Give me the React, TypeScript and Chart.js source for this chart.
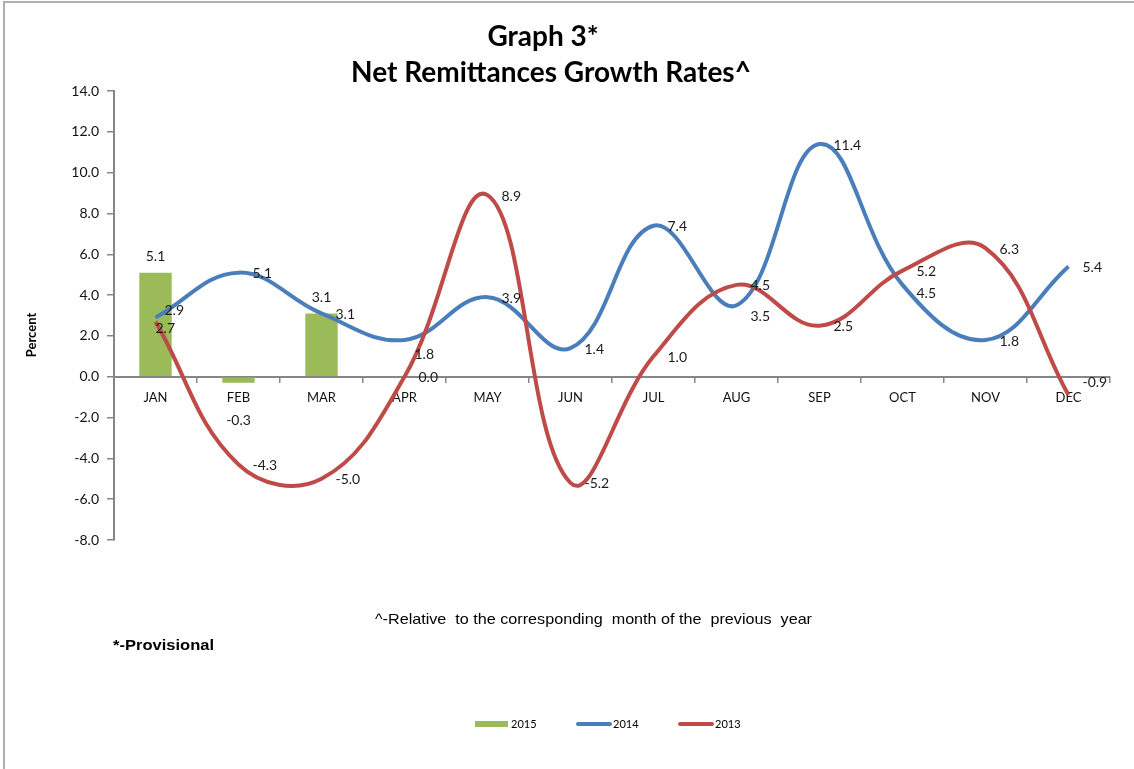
import React, { useEffect, useRef } from "react";
import { Chart, registerables } from "chart.js";

Chart.register(...registerables);

// ---- Data ----
const months = ["JAN", "FEB", "MAR", "APR", "MAY", "JUN", "JUL", "AUG", "SEP", "OCT", "NOV", "DEC"];
const rates2015: (number | null)[] = [5.1, -0.3, 3.1, null, null, null, null, null, null, null, null, null];
const rates2014 = [2.9, 5.1, 3.1, 1.8, 3.9, 1.4, 7.4, 3.5, 11.4, 4.5, 1.8, 5.4];
const rates2013 = [2.7, -4.3, -5.0, 0.0, 8.9, -5.2, 1.0, 4.5, 2.5, 5.2, 6.3, -0.9];
const yMin = -8;
const yMax = 14;
const yStep = 2;

const titleLines = ["Graph 3*", "Net Remittances Growth Rates^"];
const yTitle = "Percent";
const noteRelative = "^-Relative  to the corresponding  month of the  previous  year";
const noteProvisional = "*-Provisional";

// ---- Styles ----
const GREEN = "#9bbb59";
const BLUE = "#4a7ebb";
const RED = "#be4b48";
const AXIS = "#868686";
const FONT = "Lato, 'Open Sans', sans-serif";

// label nudges (dx, dy) relative to default placement, keyed "datasetIndex-pointIndex"
const labelNudges: Record<string, [number, number]> = {
  "0-1": [0, 54],
  "1-0": [-5, -8],
  "2-0": [-14, 6],
  "1-3": [-4, 13],
  "1-7": [0, 10],
  "1-9": [0, 8],
  "2-11": [0, -14],
};

const decor = {
  id: "decor",
  afterDatasetsDraw(chart: any) {
    const ctx: CanvasRenderingContext2D = chart.ctx;
    ctx.save();
    ctx.fillStyle = "#1a1a1a";
    ctx.font = `14px ${FONT}`;
    ctx.textBaseline = "middle";
    chart.data.datasets.forEach((ds: any, di: number) => {
      const meta = chart.getDatasetMeta(di);
      meta.data.forEach((el: any, i: number) => {
        const v = ds.data[i];
        if (v === null || v === undefined) return;
        const txt = Number(v).toFixed(1);
        const n = labelNudges[`${di}-${i}`] || [0, 0];
        if (ds.type === "bar") {
          ctx.textAlign = "center";
          ctx.fillText(txt, el.x + n[0], el.y - 16 + n[1]);
        } else {
          ctx.textAlign = "left";
          ctx.fillText(txt, el.x + 14 + n[0], el.y + 1 + n[1]);
        }
      });
    });
    ctx.restore();
  },
  afterDraw(chart: any) {
    const ctx: CanvasRenderingContext2D = chart.ctx;
    ctx.save();
    // frame
    ctx.fillStyle = "#b0b0b0";
    ctx.fillRect(3, 1, chart.width - 3, 2);
    ctx.fillRect(3, 1, 2, chart.height);

    // title
    ctx.fillStyle = "#000";
    ctx.textAlign = "center";
    ctx.textBaseline = "middle";
    ctx.font = `bold 28px ${FONT}`;
    ctx.fillText(titleLines[0], 543, 37);
    ctx.fillText(titleLines[1], 551, 73);

    // y title
    ctx.save();
    ctx.translate(32, 335);
    ctx.rotate(-Math.PI / 2);
    ctx.font = `bold 13px ${FONT}`;
    ctx.fillText(yTitle, 0, 0);
    ctx.restore();

    // footnotes (narrow sans emulated by horizontal scaling)
    const drawFit = (text: string, font: string, left: number, y: number, width: number) => {
      ctx.save();
      ctx.font = font;
      ctx.textAlign = "left";
      const w = ctx.measureText(text).width;
      ctx.translate(left, y);
      ctx.scale(width / w, 1);
      ctx.fillText(text, 0, 0);
      ctx.restore();
    };
    drawFit(noteRelative, "15px 'Liberation Sans', Arial, sans-serif", 375, 620, 437);
    drawFit(noteProvisional, "bold 15px 'Liberation Sans', Arial, sans-serif", 113, 646, 101);

    // legend
    ctx.font = `11px ${FONT}`;
    ctx.textAlign = "left";
    ctx.fillStyle = GREEN;
    ctx.fillRect(475, 721, 33, 6);
    ctx.lineCap = "round";
    ctx.lineWidth = 4;
    ctx.strokeStyle = BLUE;
    ctx.beginPath();
    ctx.moveTo(578, 724);
    ctx.lineTo(610, 724);
    ctx.stroke();
    ctx.strokeStyle = RED;
    ctx.beginPath();
    ctx.moveTo(680, 724);
    ctx.lineTo(712, 724);
    ctx.stroke();
    ctx.fillStyle = "#000";
    ctx.fillText("2015", 511, 724);
    ctx.fillText("2014", 613, 724);
    ctx.fillText("2013", 715, 724);
    ctx.restore();
  },
};

export default function App() {
  const ref = useRef<HTMLCanvasElement>(null);
  useEffect(() => {
    document.body.style.margin = "0";
    const canvas = ref.current!;
    const chart = new Chart(canvas, {
      type: "bar",
      data: {
        labels: months,
        datasets: [
          {
            type: "bar",
            label: "2015",
            data: rates2015,
            backgroundColor: GREEN,
            order: 3,
            barPercentage: 0.39,
            categoryPercentage: 1,
          } as any,
          {
            type: "line",
            label: "2014",
            data: rates2014,
            borderColor: BLUE,
            backgroundColor: BLUE,
            borderWidth: 4,
            pointRadius: 0,
            tension: 0.4,
            fill: false,
            order: 2,
          },
          {
            type: "line",
            label: "2013",
            data: rates2013,
            borderColor: RED,
            backgroundColor: RED,
            borderWidth: 4,
            pointRadius: 0,
            tension: 0.4,
            fill: false,
            order: 1,
          },
        ],
      },
      options: {
        responsive: false,
        animation: false,
        layout: { padding: { top: 91, bottom: 229, left: 0, right: 24 } },
        plugins: {
          legend: { display: false },
          title: { display: false },
          tooltip: { enabled: false },
        },
        scales: {
          x: {
            position: { y: 0 } as any,
            offset: true,
            grid: {
              offset: true,
              drawOnChartArea: false,
              drawTicks: true,
              tickLength: 5,
              color: AXIS,
              lineWidth: 1.5,
            },
            border: { display: true, color: AXIS, width: 2 },
            ticks: {
              color: "#111",
              font: { family: FONT, size: 13 },
              padding: 8,
              maxRotation: 0,
              autoSkip: false,
            },
          },
          y: {
            min: yMin,
            max: yMax,
            grid: {
              drawOnChartArea: false,
              drawTicks: true,
              tickLength: 7,
              color: AXIS,
              lineWidth: 1.5,
            },
            border: { display: true, color: AXIS, width: 2 },
            ticks: {
              stepSize: yStep,
              color: "#111",
              font: { family: FONT, size: 14 },
              padding: 8,
              callback: (v: any) => Number(v).toFixed(1),
            },
            afterFit: (s: any) => {
              s.width = 114;
            },
          },
        },
      },
      plugins: [decor],
    });
    return () => chart.destroy();
  }, []);
  return (
    <div style={{ position: "fixed", left: 0, top: 0, width: 1134, height: 769, background: "#fff" }}>
      <canvas ref={ref} width={1134} height={769} style={{ width: 1134, height: 769, display: "block" }} />
    </div>
  );
}
